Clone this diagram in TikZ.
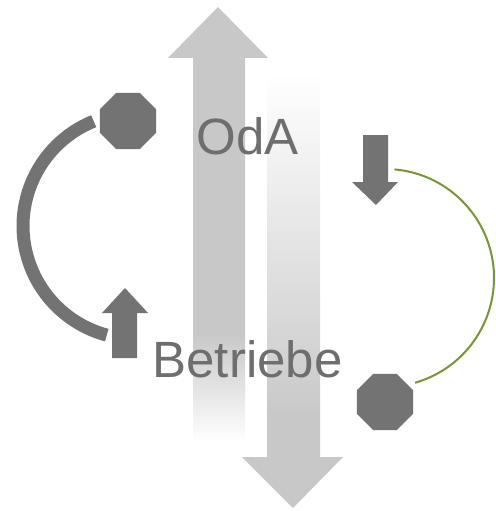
\documentclass[tikz,border=0pt]{standalone}
\usepackage{fontspec}
\setmainfont{Liberation Sans}
\usetikzlibrary{shapes.geometric}
\definecolor{bigarrow}{HTML}{C8C8C8}
\definecolor{darkgray}{HTML}{737373}
\definecolor{txtgray}{HTML}{6E6E6E}
\definecolor{olive}{HTML}{7A9434}
\tikzset{
  octa/.style={regular polygon, regular polygon sides=8, fill=darkgray, draw=none, inner sep=0pt, minimum size=61pt},
  lbl/.style={text=txtgray, font=\fontsize{51}{51}\selectfont, inner sep=0pt, anchor=base},
  smallarrow/.style={fill=darkgray, draw=none},
}
\begin{document}
\begin{tikzpicture}[x=1pt,y=-1pt]
\useasboundingbox (0,0) rectangle (495,511);
% big up arrow
\fill[bigarrow] (193,335) -- (193,58) -- (168,58) -- (218,7) -- (268,58) -- (245,58) -- (245,335) -- cycle;
\shade[top color=bigarrow, bottom color=white] (193,334.5) rectangle (245,442);
% big down arrow
\shade[top color=white, bottom color=bigarrow] (267,73) rectangle (320,420);
\fill[bigarrow] (267,419) -- (320,419) -- (320,457) -- (343,457) -- (293,508) -- (242,457) -- (267,457) -- cycle;
% labels
\node[lbl] (oda) at (247.5,154) {OdA};
\node[lbl] (betr) at (247.5,377) {Betriebe};
% left cycle
\node[octa] (octL) at (128,121) {};
\fill[smallarrow] (112,358) -- (112,313) -- (102,313) -- (125,288) -- (148,313) -- (137,313) -- (137,358) -- cycle;
\coordinate (arcL) at (93.7,121.2);
\draw[darkgray, line width=13pt] (arcL) arc[start angle=-112, end angle=-255, radius=113];
% right cycle
\node[octa] (octR) at (385,402) {};
\fill[smallarrow] (363,135) -- (388,135) -- (388,182) -- (398,182) -- (376,205) -- (352,182) -- (363,182) -- cycle;
\coordinate (arcR) at (394.5,169.4);
\draw[olive, line width=2pt] (arcR) arc[start angle=-85, end angle=74, radius=109];
\end{tikzpicture}
\end{document}
